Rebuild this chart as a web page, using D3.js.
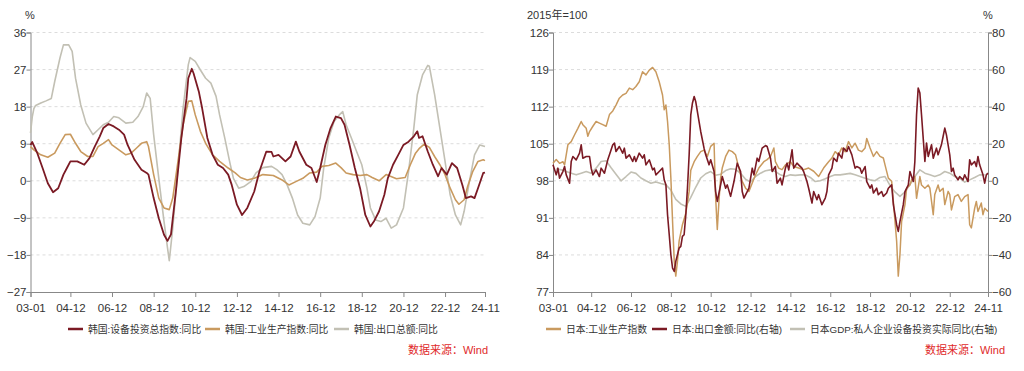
<!DOCTYPE html>
<html>
<head>
<meta charset="utf-8">
<script src="https://cdn.jsdelivr.net/npm/d3@7"></script>
<style>
  body { margin: 0; background: #fff; }
  svg text { font-family: "Liberation Sans Narrow", "Liberation Sans", Arial, "Noto Sans CJK SC", sans-serif; fill: #333; }
</style>
</head>
<body>
<svg id="chart" width="1024" height="371"></svg>
<script>
// ---- data : left panel (Korea), % yoy ----
var korInvest = [["2003-01",8.7],["2003-02",9.4],["2003-05",6.7],["2003-08",3.1],["2003-11",-0.6],["2004-02",-2.8],["2004-05",-1.8],["2004-08",1.5],["2004-10",3.1],["2004-12",4.7],["2005-04",4.7],["2005-08",3.9],["2005-11",5.5],["2006-02",8.3],["2006-05",10.8],["2006-07",12.8],["2006-10",13.8],["2007-01",13.2],["2007-04",12.4],["2007-07",11.2],["2007-09",8.7],["2008-01",5.1],["2008-05",2.7],["2008-08",1.9],["2008-09",1.5],["2008-12",-4.2],["2009-03",-9.1],["2009-06",-13.1],["2009-08",-14.6],["2009-10",-13],["2010-01",-1.8],["2010-04",10.4],["2010-07",20],["2010-08",24.9],["2010-10",27.2],["2010-11",26.1],["2011-02",21.7],["2011-04",17.6],["2011-07",10.4],["2011-10",6.3],["2012-01",3.9],["2012-04",3.1],["2012-07",1.5],["2012-09",-1],["2012-12",-5.8],["2013-03",-8.3],["2013-06",-6.6],["2013-10",-2.6],["2014-01",2.3],["2014-05",7.1],["2014-08",7],["2014-09",5.9],["2014-12",6.3],["2015-04",4.7],["2015-07",5.9],["2015-10",9.5],["2015-12",7.1],["2016-04",3.9],["2016-07",3.1],["2016-10",-0.3],["2016-12",3.1],["2017-03",8.7],["2017-06",12.8],["2017-09",15.6],["2017-12",15.2],["2018-02",13.6],["2018-05",8.7],["2018-08",3.1],["2018-11",-1.8],["2019-02",-8.3],["2019-05",-11.1],["2019-07",-9.9],["2019-10",-7.4],["2020-01",-3.4],["2020-03",0.6],["2020-06",3.9],["2020-09",6.3],["2020-12",8.7],["2021-03",9.5],["2021-06",10.8],["2021-08",12],["2021-09",10.4],["2021-11",10.8],["2022-02",7.1],["2022-05",3.9],["2022-08",1.1],["2022-10",3.1],["2023-01",1.5],["2023-04",4.3],["2023-07",3.1],["2023-10",-1],["2023-12",-4.2],["2024-03",-3.8],["2024-05",-4.2],["2024-07",-1.8],["2024-10",1.9],["2024-11",2.0]];

var korIP = [["2003-01",8.3],["2003-03",7.5],["2003-07",6.3],["2003-11",5.7],["2004-03",6.7],["2004-06",9.1],["2004-09",11.2],["2004-12",11.3],["2005-03",9.1],["2005-06",7.1],["2005-10",5.9],["2006-01",5.9],["2006-04",8.3],["2006-07",9.1],["2006-10",10],["2006-12",8.7],["2007-04",7.5],["2007-08",6.3],["2007-11",6.7],["2008-02",7.9],["2008-05",9.1],["2008-08",9.5],["2008-09",8.3],["2008-12",1.5],["2009-03",-4.2],["2009-06",-6.6],["2009-09",-7],["2009-11",-4.2],["2010-02",4.7],["2010-05",13.6],["2010-08",19.3],["2010-10",19.4],["2010-12",16],["2011-03",12],["2011-06",9.1],["2011-10",6.3],["2012-02",4.7],["2012-07",3.1],["2012-11",1.9],["2013-02",0.8],["2013-06",0.2],["2013-10",0.6],["2014-03",1.5],["2014-09",1.3],["2015-02",0.2],["2015-06",-1],["2015-10",-0.2],["2016-02",0.6],["2016-06",1.9],["2016-10",2.1],["2017-01",3.5],["2017-05",3.7],["2017-09",4.3],["2017-12",3.2],["2018-03",1.9],["2018-07",1.5],["2018-11",1.3],["2019-03",1.5],["2019-06",0.8],["2019-10",0],["2020-02",1.5],["2020-08",0.5],["2021-01",0.8],["2021-04",3.9],["2021-07",6.7],["2021-09",7.8],["2021-12",8.9],["2022-03",8.1],["2022-06",5.9],["2022-09",3.9],["2022-12",1.5],["2023-03",-1.8],["2023-06",-4.6],["2023-08",-5.7],["2023-11",-4.6],["2024-01",-1.4],["2024-04",2.3],["2024-07",4.7],["2024-10",5.1],["2024-11",4.9]];

var korExport = [["2003-01",11.6],["2003-02",15.5],["2003-03",17.5],["2003-04",18.3],["2003-07",18.9],["2003-10",19.4],["2004-01",20],["2004-03",24.1],["2004-06",29.8],["2004-08",33],["2004-11",33],["2005-01",31.4],["2005-03",24.9],["2005-06",18.4],["2005-09",14],["2006-01",11.2],["2006-04",12.4],["2006-07",13.6],["2006-10",14.2],["2007-01",15.6],["2007-04",15.3],["2007-08",14],["2007-12",14.2],["2008-03",15.6],["2008-06",18],["2008-08",21.3],["2008-10",20],["2008-12",11.2],["2009-03",0.6],["2009-06",-9.9],["2009-08",-16.3],["2009-09",-19.4],["2009-11",-11.5],["2010-02",3.1],["2010-05",17.6],["2010-08",28.2],["2010-09",29.9],["2010-12",29],["2011-03",26.9],["2011-06",24.9],["2011-09",23.7],["2011-12",20.5],["2012-02",16],["2012-05",10.4],["2012-08",4.3],["2012-10",0.6],["2013-01",-1.8],["2013-04",-1.4],["2013-08",-0.2],["2013-11",1.9],["2014-03",3.2],["2014-08",3.5],["2014-11",2.7],["2015-02",1.5],["2015-05",-1],["2015-08",-4.2],["2015-11",-8.3],["2016-02",-10.3],["2016-06",-10.7],["2016-09",-8.7],["2016-12",-4.2],["2017-02",3.1],["2017-05",10.4],["2017-08",14.4],["2017-11",16],["2018-01",16.8],["2018-03",13.6],["2018-06",10.4],["2018-09",7.1],["2018-12",3.9],["2019-03",-1.8],["2019-05",-6.6],["2019-08",-9.5],["2019-11",-9.9],["2020-02",-9.1],["2020-05",-11.5],["2020-08",-10.7],["2020-12",-6.6],["2021-03",2.3],["2021-06",12.8],["2021-08",20.9],["2021-11",25.7],["2022-02",28],["2022-03",27.8],["2022-06",20.9],["2022-09",12.8],["2022-12",4.7],["2023-03",-3.4],["2023-06",-8.3],["2023-09",-10.7],["2023-11",-7.4],["2024-02",-0.2],["2024-05",6.3],["2024-08",8.7],["2024-11",8.3]];

// ---- data : right panel (Japan) ----
// industrial production index, 2015=100 (left axis)
var jpIP = [["2003-01",101.3],["2003-03",102],["2003-05",101.3],["2003-07",101.6],["2003-08",101],["2003-10",104.8],["2003-12",105.4],["2004-02",106.7],["2004-04",107.9],["2004-06",109.2],["2004-07",108.6],["2004-09",107.9],["2004-10",106.4],["2004-11",107.3],["2005-01",108.3],["2005-03",109.2],["2005-05",108.9],["2005-07",108.6],["2005-09",108.3],["2005-11",110.5],["2006-01",111.2],["2006-03",112.3],["2006-05",113.6],["2006-07",114.2],["2006-09",114.5],["2006-11",115.5],["2007-01",115.2],["2007-03",115.8],["2007-05",116.7],["2007-07",118.6],["2007-09",118],["2007-11",118.9],["2008-01",119.4],["2008-03",118.6],["2008-05",116.7],["2008-07",114.2],["2008-08",111.4],["2008-09",112.3],["2008-10",109.2],["2008-11",104.8],["2008-12",98.5],["2009-01",90.3],["2009-02",82.8],["2009-03",80],["2009-04",82.8],["2009-05",86.6],["2009-07",89.7],["2009-09",91.9],["2009-11",96],["2009-12",100],["2010-02",101.6],["2010-04",102.6],["2010-06",103.5],["2010-08",103.8],["2010-10",102.6],["2010-12",104.5],["2011-02",105.1],["2011-03",95],["2011-04",88.8],["2011-05",94.1],["2011-06",98.5],["2011-07",100.4],["2011-09",102.6],["2011-11",103.8],["2012-01",103.5],["2012-03",102.9],["2012-05",100.4],["2012-07",97.9],["2012-09",96.6],["2012-11",96],["2013-01",97.6],["2013-03",99.1],["2013-05",100.4],["2013-08",101.6],["2013-10",102],["2013-12",102.6],["2014-02",104.2],["2014-03",101.6],["2014-05",100.4],["2014-07",100.1],["2014-09",101],["2014-12",101.6],["2015-02",100.7],["2015-05",100.4],["2015-08",100.1],["2015-11",100.4],["2016-02",99.8],["2016-05",98.8],["2016-08",100.4],["2016-11",101.6],["2017-01",102.3],["2017-03",103.5],["2017-05",102.9],["2017-07",104.2],["2017-09",103.5],["2017-11",105.4],["2018-01",104.2],["2018-03",105.1],["2018-05",103.8],["2018-07",103.5],["2018-09",104.2],["2018-10",106],["2018-12",104.2],["2019-02",102.6],["2019-04",103.5],["2019-06",102.6],["2019-08",102.3],["2019-09",101],["2019-11",98.5],["2020-01",97.9],["2020-02",94.1],["2020-04",86.6],["2020-05",80],["2020-06",84.1],["2020-07",90.3],["2020-09",93.5],["2020-10",96.6],["2020-12",97.2],["2021-01",98.2],["2021-03",98.8],["2021-04",94.7],["2021-06",98.8],["2021-07",97.2],["2021-09",96.6],["2021-11",97.2],["2021-12",96.6],["2022-02",91.6],["2022-03",95.4],["2022-05",97.2],["2022-06",96],["2022-08",96.6],["2022-09",93.5],["2022-11",96],["2022-12",95.4],["2023-01",92.5],["2023-03",95],["2023-05",95.4],["2023-07",94.1],["2023-09",95],["2023-11",95.4],["2023-12",89.7],["2024-01",89.1],["2024-03",92.8],["2024-04",94.1],["2024-05",92.2],["2024-07",93.8],["2024-08",91.6],["2024-09",92.8],["2024-11",92.2]];

// exports yoy % (right axis)
var jpExport = [["2003-01",8.6],["2003-03",3.2],["2003-04",6.8],["2003-05",1.4],["2003-07",5],["2003-08",7.7],["2003-09",3.2],["2003-11",-1.3],["2003-12",10.4],["2004-01",13.1],["2004-03",11.3],["2004-05",14.9],["2004-06",19.4],["2004-07",12.2],["2004-09",13.1],["2004-11",13.1],["2004-12",6.8],["2005-01",3.2],["2005-03",5.9],["2005-05",2.3],["2005-06",6.8],["2005-08",4.1],["2005-10",11.3],["2005-11",14],["2006-01",19.4],["2006-02",20.3],["2006-03",15.8],["2006-05",18.5],["2006-07",14.9],["2006-08",17.6],["2006-09",12.2],["2006-11",14],["2007-01",10.4],["2007-02",13.1],["2007-03",10.4],["2007-05",14.9],["2007-07",12.2],["2007-08",14],["2007-09",8.6],["2007-11",11.3],["2008-01",5.9],["2008-02",6.8],["2008-03",3.2],["2008-05",5],["2008-07",6.8],["2008-08",0.5],["2008-09",-2.2],["2008-10",-18.3],["2008-11",-29.1],["2008-12",-39.9],["2009-01",-47.1],["2009-02",-48.9],["2009-03",-43.5],["2009-04",-39.9],["2009-05",-36.3],["2009-06",-35.4],["2009-07",-30],["2009-08",-29.1],["2009-09",-18.3],["2009-10",-4],["2009-11",14],["2009-12",35.6],["2010-01",42],["2010-02",45.5],["2010-03",42.8],["2010-05",32],["2010-06",26.6],["2010-08",17.6],["2010-09",14],["2010-11",8.6],["2010-12",11.3],["2011-02",5],["2011-03",-5.8],["2011-04",-11.1],["2011-06",-2.2],["2011-07",2.3],["2011-09",-4],["2011-10",-2.2],["2011-12",-8.4],["2012-02",-0.4],["2012-04",9.5],["2012-06",5],["2012-07",-5.8],["2012-08",-9.3],["2012-10",-5.8],["2012-11",-4],["2013-01",6.8],["2013-02",3.2],["2013-04",12.2],["2013-05",10.4],["2013-07",17.6],["2013-09",19],["2013-10",18.5],["2013-12",12.2],["2014-01",5],["2014-03",7.7],["2014-04",-1.3],["2014-06",1.4],["2014-07",-2.2],["2014-09",6.8],["2014-10",9.5],["2014-11",5.9],["2015-01",16.7],["2015-02",6.8],["2015-04",9.5],["2015-05",8.6],["2015-07",6.8],["2015-08",5],["2015-10",-0.4],["2015-11",-4],["2016-01",-12],["2016-02",-5.8],["2016-04",-10.2],["2016-05",-7.5],["2016-07",-12.9],["2016-09",-9.3],["2016-10",-5.8],["2016-11",3.2],["2017-01",6.8],["2017-02",12.2],["2017-04",10.4],["2017-05",14.9],["2017-07",12.2],["2017-08",17.6],["2017-10",15.8],["2017-11",18.5],["2018-01",14],["2018-03",6.8],["2018-04",7.7],["2018-06",6.8],["2018-07",4.1],["2018-09",7.7],["2018-10",-0.4],["2018-12",-4],["2019-01",-2.2],["2019-02",-6.6],["2019-04",-4],["2019-05",-7.5],["2019-07",-5.8],["2019-08",-8.4],["2019-10",-6.6],["2019-11",-4],["2020-01",-2.2],["2020-02",-12.9],["2020-04",-23.7],["2020-05",-27.3],["2020-06",-21.9],["2020-08",-12.9],["2020-09",-5.8],["2020-11",-2.2],["2020-12",5],["2021-02",-0.4],["2021-03",10.4],["2021-04",35.6],["2021-05",50],["2021-06",47.3],["2021-07",35.6],["2021-08",23],["2021-09",10.4],["2021-10",20.3],["2021-11",13.1],["2022-01",19.4],["2022-02",12.2],["2022-04",17.6],["2022-05",14],["2022-07",19.4],["2022-08",23.9],["2022-09",28.4],["2022-10",24.8],["2022-12",14],["2023-01",5],["2023-02",6.8],["2023-03",3.2],["2023-05",0.5],["2023-06",2.3],["2023-08",0.5],["2023-09",3.2],["2023-11",-0.4],["2023-12",11.3],["2024-01",8.6],["2024-03",10.4],["2024-04",7.7],["2024-05",13.1],["2024-06",8.6],["2024-08",3.2],["2024-09",-1.3],["2024-10",3.2],["2024-11",4.1]];

// GDP private capex real yoy %, quarterly (right axis)
var jpCapex = [["2003-03",6.5],["2003-06",5.9],["2003-09",5],["2003-12",4.1],["2004-03",3.2],["2004-06",4.1],["2004-09",5],["2004-12",4.1],["2005-03",6.8],["2005-06",10.4],["2005-09",10.8],["2005-12",7],["2006-03",3.5],["2006-06",0],["2006-09",2.3],["2006-12",4.7],["2007-03",4],["2007-06",1.5],["2007-09",0],["2007-12",-1.3],["2008-03",-0.6],["2008-06",-1.5],["2008-09",-2.2],["2008-12",-5],["2009-03",-10],["2009-06",-12.5],["2009-09",-13.8],["2009-12",-9],["2010-03",-3.5],["2010-06",1.5],["2010-09",3.8],["2010-12",5],["2011-03",3],["2011-06",3.5],["2011-09",5.5],["2011-12",6.5],["2012-03",6.2],["2012-06",4],["2012-09",0.8],["2012-12",-0.7],["2013-03",2.3],["2013-06",4.1],["2013-09",5.4],["2013-12",5.9],["2014-03",5],["2014-06",3.2],["2014-09",2.3],["2014-12",3.2],["2015-03",2.9],["2015-06",3.2],["2015-09",3.2],["2015-12",1.8],["2016-03",-0.4],["2016-06",0],["2016-09",1.1],["2016-12",2.3],["2017-03",3.2],["2017-06",3.2],["2017-09",3.6],["2017-12",4],["2018-03",3.2],["2018-06",2.3],["2018-09",1.4],["2018-12",0.5],["2019-03",0],["2019-06",1.8],["2019-09",2.3],["2019-12",-2.5],["2020-03",-6],["2020-06",-8.4],["2020-09",-6],["2020-12",-2],["2021-03",2.3],["2021-06",5.9],["2021-09",4.1],["2021-12",3.2],["2022-03",2.3],["2022-06",3.2],["2022-09",5],["2022-12",4.1],["2023-03",2.3],["2023-06",1.4],["2023-09",-0.7],["2023-12",0.5],["2024-03",1.8],["2024-06",3.2],["2024-09",3.2]];

// ---- axes / labels ----
var xTickDates = ["2003-01","2004-12","2006-12","2008-12","2010-12","2012-12","2014-12","2016-12","2018-12","2020-12","2022-12","2024-11"];
var korTicks = [-27,-18,-9,0,9,18,27,36];
var jpLeftTicks = [77,84,91,98,105,112,119,126];
var jpRightTicks = [-60,-40,-20,0,20,40,60,80];

var korNames = ["韩国:设备投资总指数:同比","韩国:工业生产指数:同比","韩国:出口总额:同比"];
var jpNames = ["日本:工业生产指数","日本:出口金额:同比(右轴)","日本GDP:私人企业设备投资实际同比(右轴)"];
var sourceText = "数据来源：Wind";

var RED = "#7b1a24", TAN = "#c99a5f", GRAY = "#c2c0b4";

var parse = d3.timeParse("%Y-%m");
var fmt = d3.timeFormat("%y-%m");
var svg = d3.select("#chart");

// draws one panel frame (grid, x axis, left axis) and returns its scales
function panel(x0, x1, yTicks, yLeftLabel) {
  var top = 32.5, bottom = 292;
  var x = d3.scaleTime().domain([parse("2003-01"), parse("2024-11")]).range([x0, x1]);
  var y = d3.scaleLinear().domain([yTicks[0], yTicks[yTicks.length - 1]]).range([bottom, top]);
  var g = svg.append("g");

  // dashed grid
  g.selectAll("line.grid").data(yTicks.slice(1)).enter().append("line")
    .attr("x1", x0).attr("x2", x1)
    .attr("y1", function(d){ return y(d); }).attr("y2", function(d){ return y(d); })
    .attr("stroke", "#dcdcdc").attr("stroke-dasharray", "3,3").attr("stroke-width", 1);

  var xAxis = d3.axisBottom(x).tickValues(xTickDates.map(parse)).tickFormat(fmt).tickSizeOuter(0).tickSize(5);
  var gx = g.append("g").attr("transform", "translate(0," + bottom + ")").call(xAxis);
  gx.select(".domain").attr("stroke", "#888");
  gx.selectAll(".tick line").attr("stroke", "#888");
  gx.selectAll("text").attr("font-size", 11.5).attr("dy", "1.0em").attr("fill", "#333");

  var yAxis = d3.axisLeft(y).tickValues(yTicks).tickSizeOuter(0).tickSize(4);
  var gy = g.append("g").attr("transform", "translate(" + x0 + ",0)").call(yAxis);
  gy.select(".domain").attr("stroke", "#888");
  gy.selectAll(".tick line").attr("stroke", "#888");
  gy.selectAll("text").attr("font-size", 11.5).attr("fill", "#333").attr("x", -4);

  g.append("text").attr("x", yLeftLabel.x).attr("y", 19).attr("font-size", 11)
    .attr("text-anchor", yLeftLabel.anchor).text(yLeftLabel.text);

  return { x: x, y: y, g: g };
}

function drawLine(p, yScale, data, color, width) {
  var line = d3.line()
    .x(function(d){ return p.x(parse(d[0])); })
    .y(function(d){ return yScale(d[1]); });
  p.g.append("path").datum(data).attr("d", line)
    .attr("fill", "none").attr("stroke", color).attr("stroke-width", width)
    .attr("stroke-linejoin", "round");
}

function legend(items, yPos) {
  items.forEach(function(it){
    svg.append("line").attr("x1", it.x).attr("x2", it.x + 15).attr("y1", yPos).attr("y2", yPos)
      .attr("stroke", it.color).attr("stroke-width", 2.5);
    svg.append("text").attr("x", it.x + 20).attr("y", yPos + 4).attr("font-size", 9.8).text(it.name);
  });
}

// ---- left : Korea ----
var pk = panel(30.5, 485, korTicks, { x: 30, anchor: "middle", text: "%" });
drawLine(pk, pk.y, korExport, GRAY, 1.6);
drawLine(pk, pk.y, korIP, TAN, 1.6);
drawLine(pk, pk.y, korInvest, RED, 1.8);

legend([
  { x: 68, color: RED, name: korNames[0] },
  { x: 205, color: TAN, name: korNames[1] },
  { x: 334, color: GRAY, name: korNames[2] }
], 329);
svg.append("text").attr("x", 488).attr("y", 354).attr("text-anchor", "end")
  .attr("font-size", 11).style("fill", "#e02a2a").text(sourceText);

// ---- right : Japan ----
var pj = panel(553, 988, jpLeftTicks, { x: 527, anchor: "start", text: "2015年=100" });
var yR = d3.scaleLinear().domain([-60, 80]).range([292, 32.5]);
var gyR = pj.g.append("g").attr("transform", "translate(988,0)")
  .call(d3.axisRight(yR).tickValues(jpRightTicks).tickSizeOuter(0).tickSize(4));
gyR.select(".domain").attr("stroke", "#888");
gyR.selectAll(".tick line").attr("stroke", "#888");
gyR.selectAll("text").attr("font-size", 11.5).attr("fill", "#333").attr("x", 4);
pj.g.append("text").attr("x", 988).attr("y", 19).attr("font-size", 11)
  .attr("text-anchor", "middle").text("%");

drawLine(pj, yR, jpCapex, GRAY, 1.6);
drawLine(pj, pj.y, jpIP, TAN, 1.5);
drawLine(pj, yR, jpExport, RED, 1.6);

legend([
  { x: 546, color: TAN, name: jpNames[0] },
  { x: 652, color: RED, name: jpNames[1] },
  { x: 790, color: GRAY, name: jpNames[2] }
], 329);
svg.append("text").attr("x", 1005).attr("y", 354).attr("text-anchor", "end")
  .attr("font-size", 11).style("fill", "#e02a2a").text(sourceText);
</script>
</body>
</html>
